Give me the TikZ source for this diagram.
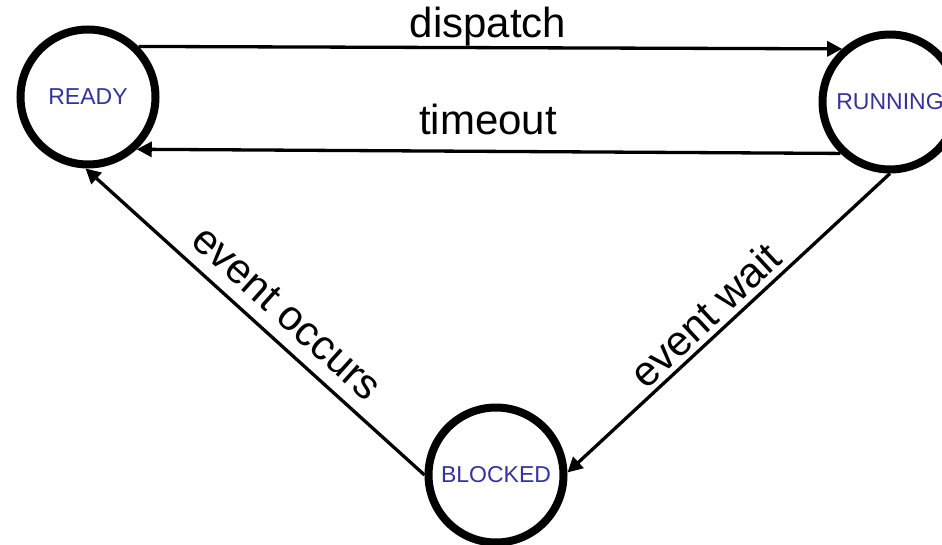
\documentclass[tikz,border=0pt]{standalone}
\usepackage{fontspec}
\setmainfont{Liberation Sans}
\usetikzlibrary{arrows.meta}
\definecolor{statecol}{RGB}{51,51,160}
\tikzset{
  state/.style={circle, draw=black, line width=8pt, minimum size=135pt, inner sep=0pt,
    text=statecol, font=\fontsize{23}{27}\selectfont},
  trans/.style={line width=3.3pt, -{Triangle[length=15pt,width=15pt]}},
  lbl/.style={font=\fontsize{42}{50}\selectfont, inner sep=0pt}
}
\begin{document}
\begin{tikzpicture}[x=1pt,y=-1pt]
\useasboundingbox (0,0) rectangle (942,545);
\node[state] (ready) at (88,97) {READY};
\node[state] (running) at (890,102) {RUNNING};
\node[state] (blocked) at (496,475) {BLOCKED};

\draw[trans] (ready.45) -- (running.132);
\draw[trans] (running.226) -- (ready.313);
\draw[trans] (running.270) -- (blocked.2);
\draw[trans] (blocked.180) -- (ready.268);

\node[lbl, anchor=base] (ldispatch) at (488,38) {dispatch};
\node[lbl, anchor=base] (ltimeout) at (488,135) {timeout};
\node[lbl, rotate=-42] (loccurs) at (287,313) {event occurs};
\node[lbl, rotate=43] (lwait) at (705,315) {event wait};
\end{tikzpicture}
\end{document}
